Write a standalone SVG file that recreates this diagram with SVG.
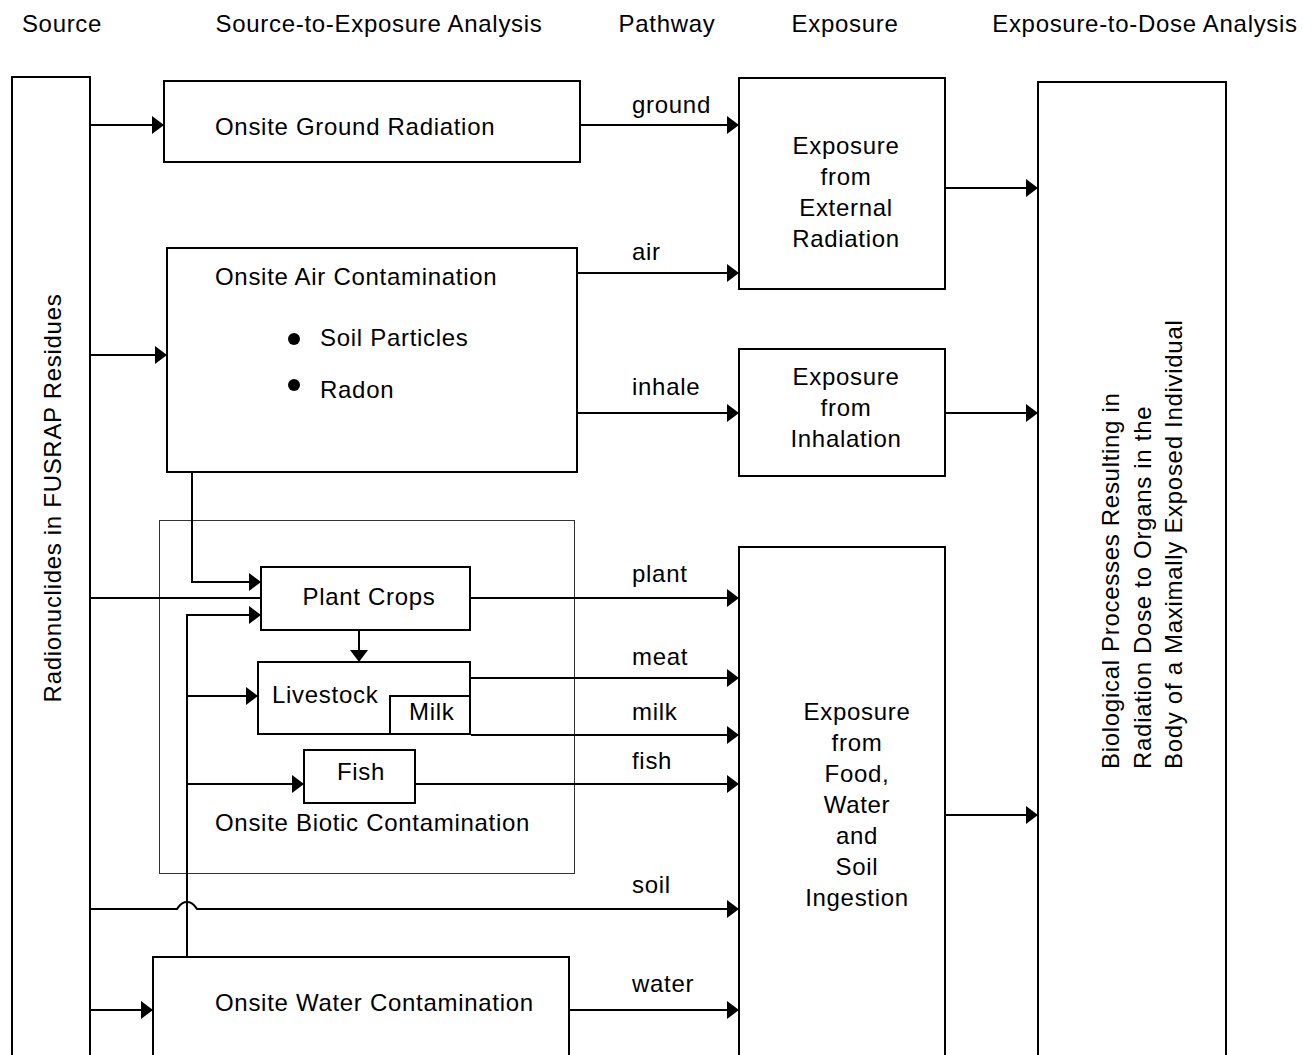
<svg xmlns="http://www.w3.org/2000/svg" width="1314" height="1055" viewBox="0 0 1314 1055">
<style>
text{font-family:"Liberation Sans",Arial,sans-serif;font-size:24px;letter-spacing:0.7px;fill:#000}
.box{fill:#fff;stroke:#000;stroke-width:2}
.thin{fill:none;stroke:#333;stroke-width:1}
.c{text-anchor:middle}
.conn path{fill:none;stroke:#000;stroke-width:2}
</style>
<defs>
<marker id="arr" markerUnits="userSpaceOnUse" markerWidth="13" markerHeight="18" refX="12" refY="9" orient="auto">
<path d="M0,0 L12,9 L0,18 z" fill="#000"/>
</marker>
</defs>
<rect width="1314" height="1055" fill="#fff"/>
<g id="headers">
<text x="62" y="32" class="c">Source</text>
<text x="379" y="32" class="c">Source-to-Exposure Analysis</text>
<text x="667" y="32" class="c">Pathway</text>
<text x="845" y="32" class="c">Exposure</text>
<text x="1145" y="32" class="c">Exposure-to-Dose Analysis</text>
</g>
<g id="biotic">
<rect class="thin" x="159.5" y="520.5" width="415" height="353"/>
<text x="215" y="831">Onsite Biotic Contamination</text>
</g>
<g id="source">
<rect class="box" x="12" y="77" width="78" height="1010"/>
<text transform="translate(61,498) rotate(-90)" class="c">Radionuclides in FUSRAP Residues</text>
</g>
<g id="ground">
<rect class="box" x="164" y="81" width="416" height="81"/>
<text x="215" y="135">Onsite Ground Radiation</text>
</g>
<g id="air">
<rect class="box" x="167" y="248" width="410" height="224"/>
<text x="215" y="285">Onsite Air Contamination</text>
<circle cx="294" cy="339" r="6"/>
<text x="320" y="346">Soil Particles</text>
<circle cx="294" cy="385" r="6"/>
<text x="320" y="398">Radon</text>
</g>
<g id="plant">
<rect class="box" x="261" y="567" width="209" height="63"/>
<text x="369" y="605" class="c">Plant Crops</text>
</g>
<g id="livestock">
<rect class="box" x="258" y="662" width="212" height="72"/>
<text x="272" y="703">Livestock</text>
<rect class="box" x="390" y="696" width="80" height="38"/>
<text x="409" y="720">Milk</text>
</g>
<g id="fish">
<rect class="box" x="304" y="750" width="111" height="53"/>
<text x="361" y="780" class="c">Fish</text>
</g>
<g id="water">
<rect class="box" x="153" y="957" width="416" height="130"/>
<text x="215" y="1011">Onsite Water Contamination</text>
</g>
<g id="exp-external">
<rect class="box" x="739" y="78" width="206" height="211"/>
<text x="846" y="154" class="c">Exposure</text>
<text x="846" y="185" class="c">from</text>
<text x="846" y="216" class="c">External</text>
<text x="846" y="247" class="c">Radiation</text>
</g>
<g id="exp-inhalation">
<rect class="box" x="739" y="349" width="206" height="127"/>
<text x="846" y="385" class="c">Exposure</text>
<text x="846" y="416" class="c">from</text>
<text x="846" y="447" class="c">Inhalation</text>
</g>
<g id="exp-ingestion">
<rect class="box" x="739" y="547" width="206" height="540"/>
<text x="857" y="720" class="c">Exposure</text>
<text x="857" y="751" class="c">from</text>
<text x="857" y="782" class="c">Food,</text>
<text x="857" y="813" class="c">Water</text>
<text x="857" y="844" class="c">and</text>
<text x="857" y="875" class="c">Soil</text>
<text x="857" y="906" class="c">Ingestion</text>
</g>
<g id="bio">
<rect class="box" x="1038" y="82" width="188" height="1005"/>
<text transform="translate(1118.5,769) rotate(-90)">Biological Processes Resulting in</text>
<text transform="translate(1150.5,769) rotate(-90)">Radiation Dose to Organs in the</text>
<text transform="translate(1181.5,769) rotate(-90)">Body of a Maximally Exposed Individual</text>
</g>
<g id="connectors" class="conn">
<path d="M91,125 H164" marker-end="url(#arr)"/>
<path d="M581,125 H739" marker-end="url(#arr)"/>
<path d="M91,355 H167" marker-end="url(#arr)"/>
<path d="M578,273 H739" marker-end="url(#arr)"/>
<path d="M578,413 H739" marker-end="url(#arr)"/>
<path d="M946,188 H1038" marker-end="url(#arr)"/>
<path d="M946,413 H1038" marker-end="url(#arr)"/>
<path d="M192,473 V582 H261" marker-end="url(#arr)"/>
<path d="M91,598 H261"/>
<path d="M187,957 V615 H261" marker-end="url(#arr)"/>
<path d="M187,696 H258" marker-end="url(#arr)"/>
<path d="M187,784 H304" marker-end="url(#arr)"/>
<path d="M359,631 V662" marker-end="url(#arr)"/>
<path d="M471,598 H739" marker-end="url(#arr)"/>
<path d="M471,678 H739" marker-end="url(#arr)"/>
<path d="M471,735 H739" marker-end="url(#arr)"/>
<path d="M416,784 H739" marker-end="url(#arr)"/>
<path d="M91,909 H177 C179,907 180,902 187,902 C194,902 195,907 197,909 H739" marker-end="url(#arr)"/>
<path d="M91,1010 H153" marker-end="url(#arr)"/>
<path d="M570,1010 H739" marker-end="url(#arr)"/>
<path d="M946,815 H1038" marker-end="url(#arr)"/>
</g>
<g id="pathway-labels">
<text x="632" y="113">ground</text>
<text x="632" y="260">air</text>
<text x="632" y="395">inhale</text>
<text x="632" y="582">plant</text>
<text x="632" y="665">meat</text>
<text x="632" y="720">milk</text>
<text x="632" y="769">fish</text>
<text x="632" y="893">soil</text>
<text x="632" y="992">water</text>
</g>
</svg>
